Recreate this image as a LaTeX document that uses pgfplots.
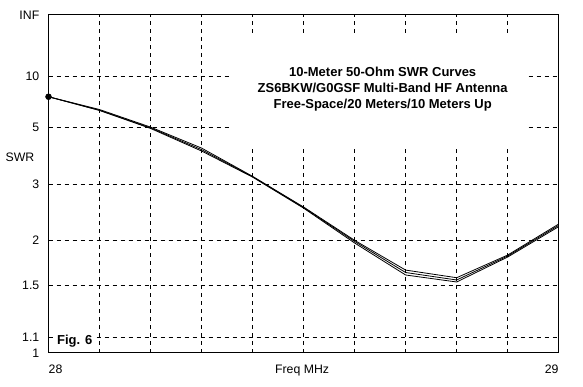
\documentclass[border=0pt]{standalone}
\usepackage{fontspec}
\setmainfont{Liberation Sans}
\usepackage{pgfplots}
\pgfplotsset{compat=1.18}
\usepackage{pgfplotstable}

% SWR values (three curves: free space, 20 m up, 10 m up)
\pgfplotstableread{
x    a     b     c
28.0 7.27  7.27  7.27
28.1 6.15  6.10  6.08
28.2 5.03  4.99  4.96
28.3 4.08  4.02  3.97
28.4 3.19  3.18  3.17
28.5 2.52  2.51  2.50
28.6 2.00  1.985 1.965
28.7 1.65  1.625 1.60
28.8 1.573 1.551 1.532
28.9 1.816 1.805 1.793
29.0 2.234 2.214 2.194
}\swrdata

\begin{document}
\begin{tikzpicture}
\begin{axis}[
  at={(0,0)}, anchor=south west,
  scale only axis, width=510.2pt, height=338pt,
  xmin=28, xmax=29, ymin=0, ymax=1,
  clip=false,
  axis line style={black, line width=1pt},
  major tick length=0pt,
  xtick={28.1,28.2,28.3,28.4,28.5,28.6,28.7,28.8,28.9},
  xticklabels={},
  ytick={0.047619,0.2,0.333333,0.5,0.666667,0.818182},
  yticklabels={1.1,1.5,2,3,5,10},
  extra y ticks={0,1},
  extra y tick labels={1,INF},
  extra y tick style={grid=none},
  grid=major,
  major grid style={black, line width=0.8pt, dash pattern=on 4pt off 4pt},
  yticklabel style={anchor=east, inner sep=0pt, xshift=-9pt, font=\fontsize{12.3}{14}\selectfont},
  /pgf/number format/assume math mode=true,
]
\fill[white] (axis cs:28.356,0.612) rectangle (axis cs:28.934,0.935);
\node[align=center, font=\bfseries\fontsize{13}{16}\selectfont] at (axis cs:28.655,0.781)
  {10-Meter 50-Ohm SWR Curves\\ZS6BKW/G0GSF Multi-Band HF Antenna\\Free-Space/20 Meters/10 Meters Up};
\node[anchor=west, fill=white, inner xsep=3pt, inner ysep=2pt, font=\bfseries\fontsize{13}{15}\selectfont]
  at (axis cs:28.0106,0.0355) {Fig. 6};

\addplot[black, line width=0.8pt, mark=none] table[x=x, y expr={(\thisrow{a}-1)/(\thisrow{a}+1)}] {\swrdata};
\addplot[black, line width=0.8pt, mark=none] table[x=x, y expr={(\thisrow{b}-1)/(\thisrow{b}+1)}] {\swrdata};
\addplot[black, line width=0.8pt, mark=none] table[x=x, y expr={(\thisrow{c}-1)/(\thisrow{c}+1)}] {\swrdata};
\addplot[only marks, mark=*, mark size=3pt, black] coordinates {(28.0,0.7582)};

\node[anchor=base west, inner sep=0pt, font=\fontsize{12.3}{14}\selectfont] at (axis cs:28,0) [yshift=-21pt] {28};
\node[anchor=base east, inner sep=0pt, font=\fontsize{12.3}{14}\selectfont] at (axis cs:29,0) [yshift=-21pt] {29};
\node[anchor=base, inner sep=0pt, font=\fontsize{12.3}{14}\selectfont] at (axis cs:28.497,0) [yshift=-21pt] {Freq MHz};
\node[inner sep=0pt, font=\fontsize{12.3}{14}\selectfont] at (axis cs:27.944,0.58) {SWR};
\end{axis}
\pgfresetboundingbox
\path[use as bounding box] (-48.5pt,-34pt) rectangle (534.5pt,353pt);
\end{tikzpicture}
\end{document}
